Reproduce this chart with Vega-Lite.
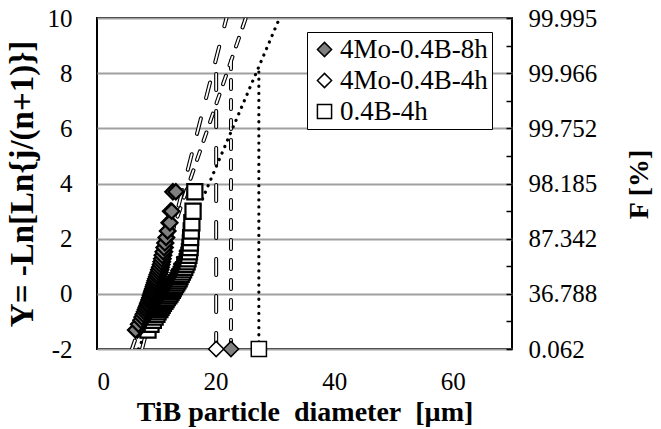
{
  "$schema": "https://vega.github.io/schema/vega-lite/v6.json",
  "width": 415,
  "height": 331,
  "autosize": "none",
  "padding": {"left": 97, "top": 18, "right": 149, "bottom": 80},
  "background": "white",
  "config": {
    "view": {"stroke": "black", "strokeWidth": 2},
    "font": "Liberation Serif",
    "axis": {"labelFont": "Liberation Serif", "titleFont": "Liberation Serif", "labelColor": "black", "titleColor": "black", "labelFontSize": 25, "titleFontSize": 28, "titleFontWeight": "bold"}
  },
  "datasets": {
    "pts": [
      {"s": "0.4B-4h", "j": 1, "x": 8.6, "y": -1.312},
      {"s": "0.4B-4h", "j": 2, "x": 9.1, "y": -1.105},
      {"s": "0.4B-4h", "j": 3, "x": 9.5, "y": -0.961},
      {"s": "0.4B-4h", "j": 4, "x": 9.8, "y": -0.845},
      {"s": "0.4B-4h", "j": 5, "x": 10.1, "y": -0.744},
      {"s": "0.4B-4h", "j": 6, "x": 10.3, "y": -0.653},
      {"s": "0.4B-4h", "j": 7, "x": 10.6, "y": -0.570},
      {"s": "0.4B-4h", "j": 8, "x": 10.8, "y": -0.491},
      {"s": "0.4B-4h", "j": 9, "x": 11.0, "y": -0.416},
      {"s": "0.4B-4h", "j": 10, "x": 11.2, "y": -0.344},
      {"s": "0.4B-4h", "j": 11, "x": 11.45, "y": -0.274},
      {"s": "0.4B-4h", "j": 12, "x": 11.65, "y": -0.206},
      {"s": "0.4B-4h", "j": 13, "x": 11.85, "y": -0.139},
      {"s": "0.4B-4h", "j": 14, "x": 12.1, "y": -0.072},
      {"s": "0.4B-4h", "j": 15, "x": 12.3, "y": -0.005},
      {"s": "0.4B-4h", "j": 16, "x": 12.5, "y": 0.061},
      {"s": "0.4B-4h", "j": 17, "x": 12.7, "y": 0.127},
      {"s": "0.4B-4h", "j": 18, "x": 12.85, "y": 0.194},
      {"s": "0.4B-4h", "j": 19, "x": 13.05, "y": 0.262},
      {"s": "0.4B-4h", "j": 20, "x": 13.25, "y": 0.332},
      {"s": "0.4B-4h", "j": 21, "x": 13.45, "y": 0.402},
      {"s": "0.4B-4h", "j": 22, "x": 13.65, "y": 0.474},
      {"s": "0.4B-4h", "j": 23, "x": 13.85, "y": 0.548},
      {"s": "0.4B-4h", "j": 24, "x": 14.0, "y": 0.625},
      {"s": "0.4B-4h", "j": 25, "x": 14.2, "y": 0.704},
      {"s": "0.4B-4h", "j": 26, "x": 14.4, "y": 0.786},
      {"s": "0.4B-4h", "j": 27, "x": 14.6, "y": 0.873},
      {"s": "0.4B-4h", "j": 28, "x": 14.8, "y": 0.964},
      {"s": "0.4B-4h", "j": 29, "x": 15.0, "y": 1.061},
      {"s": "0.4B-4h", "j": 30, "x": 15.2, "y": 1.164},
      {"s": "0.4B-4h", "j": 31, "x": 15.35, "y": 1.274},
      {"s": "0.4B-4h", "j": 32, "x": 15.5, "y": 1.395},
      {"s": "0.4B-4h", "j": 33, "x": 15.6, "y": 1.527},
      {"s": "0.4B-4h", "j": 34, "x": 15.7, "y": 1.676},
      {"s": "0.4B-4h", "j": 35, "x": 15.75, "y": 1.844},
      {"s": "0.4B-4h", "j": 36, "x": 15.8, "y": 2.040},
      {"s": "0.4B-4h", "j": 37, "x": 15.9, "y": 2.276},
      {"s": "0.4B-4h", "j": 38, "x": 16.0, "y": 2.577},
      {"s": "0.4B-4h", "j": 39, "x": 16.2, "y": 2.996},
      {"s": "0.4B-4h", "j": 40, "x": 16.5, "y": 3.701},
      {"s": "4Mo-0.4B-4h", "j": 1, "x": 6.8, "y": -1.312},
      {"s": "4Mo-0.4B-4h", "j": 2, "x": 7.2, "y": -1.105},
      {"s": "4Mo-0.4B-4h", "j": 3, "x": 7.6, "y": -0.961},
      {"s": "4Mo-0.4B-4h", "j": 4, "x": 7.9, "y": -0.845},
      {"s": "4Mo-0.4B-4h", "j": 5, "x": 8.1, "y": -0.744},
      {"s": "4Mo-0.4B-4h", "j": 6, "x": 8.3, "y": -0.653},
      {"s": "4Mo-0.4B-4h", "j": 7, "x": 8.5, "y": -0.570},
      {"s": "4Mo-0.4B-4h", "j": 8, "x": 8.65, "y": -0.491},
      {"s": "4Mo-0.4B-4h", "j": 9, "x": 8.8, "y": -0.416},
      {"s": "4Mo-0.4B-4h", "j": 10, "x": 8.95, "y": -0.344},
      {"s": "4Mo-0.4B-4h", "j": 11, "x": 9.1, "y": -0.274},
      {"s": "4Mo-0.4B-4h", "j": 12, "x": 9.2, "y": -0.206},
      {"s": "4Mo-0.4B-4h", "j": 13, "x": 9.3, "y": -0.139},
      {"s": "4Mo-0.4B-4h", "j": 14, "x": 9.45, "y": -0.072},
      {"s": "4Mo-0.4B-4h", "j": 15, "x": 9.55, "y": -0.005},
      {"s": "4Mo-0.4B-4h", "j": 16, "x": 9.65, "y": 0.061},
      {"s": "4Mo-0.4B-4h", "j": 17, "x": 9.75, "y": 0.127},
      {"s": "4Mo-0.4B-4h", "j": 18, "x": 9.85, "y": 0.194},
      {"s": "4Mo-0.4B-4h", "j": 19, "x": 9.95, "y": 0.262},
      {"s": "4Mo-0.4B-4h", "j": 20, "x": 10.05, "y": 0.332},
      {"s": "4Mo-0.4B-4h", "j": 21, "x": 10.15, "y": 0.402},
      {"s": "4Mo-0.4B-4h", "j": 22, "x": 10.25, "y": 0.474},
      {"s": "4Mo-0.4B-4h", "j": 23, "x": 10.35, "y": 0.548},
      {"s": "4Mo-0.4B-4h", "j": 24, "x": 10.45, "y": 0.625},
      {"s": "4Mo-0.4B-4h", "j": 25, "x": 10.55, "y": 0.704},
      {"s": "4Mo-0.4B-4h", "j": 26, "x": 10.65, "y": 0.786},
      {"s": "4Mo-0.4B-4h", "j": 27, "x": 10.75, "y": 0.873},
      {"s": "4Mo-0.4B-4h", "j": 28, "x": 10.85, "y": 0.964},
      {"s": "4Mo-0.4B-4h", "j": 29, "x": 10.95, "y": 1.061},
      {"s": "4Mo-0.4B-4h", "j": 30, "x": 11.05, "y": 1.164},
      {"s": "4Mo-0.4B-4h", "j": 31, "x": 11.15, "y": 1.274},
      {"s": "4Mo-0.4B-4h", "j": 32, "x": 11.25, "y": 1.395},
      {"s": "4Mo-0.4B-4h", "j": 33, "x": 11.4, "y": 1.527},
      {"s": "4Mo-0.4B-4h", "j": 34, "x": 11.5, "y": 1.676},
      {"s": "4Mo-0.4B-4h", "j": 35, "x": 11.6, "y": 1.844},
      {"s": "4Mo-0.4B-4h", "j": 36, "x": 11.75, "y": 2.040},
      {"s": "4Mo-0.4B-4h", "j": 37, "x": 11.95, "y": 2.276},
      {"s": "4Mo-0.4B-4h", "j": 38, "x": 12.15, "y": 2.577},
      {"s": "4Mo-0.4B-4h", "j": 39, "x": 12.4, "y": 2.996},
      {"s": "4Mo-0.4B-4h", "j": 40, "x": 12.8, "y": 3.701},
      {"s": "4Mo-0.4B-8h", "j": 1, "x": 6.5, "y": -1.312},
      {"s": "4Mo-0.4B-8h", "j": 2, "x": 7.0, "y": -1.105},
      {"s": "4Mo-0.4B-8h", "j": 3, "x": 7.4, "y": -0.961},
      {"s": "4Mo-0.4B-8h", "j": 4, "x": 7.6, "y": -0.845},
      {"s": "4Mo-0.4B-8h", "j": 5, "x": 7.8, "y": -0.744},
      {"s": "4Mo-0.4B-8h", "j": 6, "x": 8.0, "y": -0.653},
      {"s": "4Mo-0.4B-8h", "j": 7, "x": 8.15, "y": -0.570},
      {"s": "4Mo-0.4B-8h", "j": 8, "x": 8.3, "y": -0.491},
      {"s": "4Mo-0.4B-8h", "j": 9, "x": 8.45, "y": -0.416},
      {"s": "4Mo-0.4B-8h", "j": 10, "x": 8.55, "y": -0.344},
      {"s": "4Mo-0.4B-8h", "j": 11, "x": 8.7, "y": -0.274},
      {"s": "4Mo-0.4B-8h", "j": 12, "x": 8.8, "y": -0.206},
      {"s": "4Mo-0.4B-8h", "j": 13, "x": 8.9, "y": -0.139},
      {"s": "4Mo-0.4B-8h", "j": 14, "x": 9.0, "y": -0.072},
      {"s": "4Mo-0.4B-8h", "j": 15, "x": 9.1, "y": -0.005},
      {"s": "4Mo-0.4B-8h", "j": 16, "x": 9.2, "y": 0.061},
      {"s": "4Mo-0.4B-8h", "j": 17, "x": 9.3, "y": 0.127},
      {"s": "4Mo-0.4B-8h", "j": 18, "x": 9.4, "y": 0.194},
      {"s": "4Mo-0.4B-8h", "j": 19, "x": 9.5, "y": 0.262},
      {"s": "4Mo-0.4B-8h", "j": 20, "x": 9.6, "y": 0.332},
      {"s": "4Mo-0.4B-8h", "j": 21, "x": 9.7, "y": 0.402},
      {"s": "4Mo-0.4B-8h", "j": 22, "x": 9.8, "y": 0.474},
      {"s": "4Mo-0.4B-8h", "j": 23, "x": 9.9, "y": 0.548},
      {"s": "4Mo-0.4B-8h", "j": 24, "x": 10.05, "y": 0.625},
      {"s": "4Mo-0.4B-8h", "j": 25, "x": 10.15, "y": 0.704},
      {"s": "4Mo-0.4B-8h", "j": 26, "x": 10.3, "y": 0.786},
      {"s": "4Mo-0.4B-8h", "j": 27, "x": 10.4, "y": 0.873},
      {"s": "4Mo-0.4B-8h", "j": 28, "x": 10.55, "y": 0.964},
      {"s": "4Mo-0.4B-8h", "j": 29, "x": 10.7, "y": 1.061},
      {"s": "4Mo-0.4B-8h", "j": 30, "x": 10.8, "y": 1.164},
      {"s": "4Mo-0.4B-8h", "j": 31, "x": 10.9, "y": 1.274},
      {"s": "4Mo-0.4B-8h", "j": 32, "x": 11.0, "y": 1.395},
      {"s": "4Mo-0.4B-8h", "j": 33, "x": 11.15, "y": 1.527},
      {"s": "4Mo-0.4B-8h", "j": 34, "x": 11.3, "y": 1.676},
      {"s": "4Mo-0.4B-8h", "j": 35, "x": 11.45, "y": 1.844},
      {"s": "4Mo-0.4B-8h", "j": 36, "x": 11.65, "y": 2.040},
      {"s": "4Mo-0.4B-8h", "j": 37, "x": 11.9, "y": 2.276},
      {"s": "4Mo-0.4B-8h", "j": 38, "x": 12.3, "y": 2.577},
      {"s": "4Mo-0.4B-8h", "j": 39, "x": 12.6, "y": 2.996},
      {"s": "4Mo-0.4B-8h", "j": 40, "x": 13.3, "y": 3.701}
    ],
    "base": [
      {"s": "4Mo-0.4B-4h", "x": 20.1, "y": -2},
      {"s": "4Mo-0.4B-8h", "x": 22.6, "y": -2},
      {"s": "0.4B-4h", "x": 27.3, "y": -2}
    ],
    "dashed": [
      {"s": "4Mo-0.4B-8h", "seg": "fit8", "o": 1, "x": 5.9, "y": -2},
      {"s": "4Mo-0.4B-8h", "seg": "fit8", "o": 2, "x": 25.1, "y": 10},
      {"s": "4Mo-0.4B-8h", "seg": "v8", "o": 1, "x": 22.6, "y": -2},
      {"s": "4Mo-0.4B-8h", "seg": "v8", "o": 2, "x": 22.6, "y": 8.45},
      {"s": "4Mo-0.4B-4h", "seg": "fit4", "o": 1, "x": 7.6, "y": -2},
      {"s": "4Mo-0.4B-4h", "seg": "fit4", "o": 2, "x": 21.84, "y": 10},
      {"s": "4Mo-0.4B-4h", "seg": "v4", "o": 1, "x": 20.1, "y": -2},
      {"s": "4Mo-0.4B-4h", "seg": "v4", "o": 2, "x": 20.1, "y": 8.5}
    ],
    "dotted": [
      {"s": "0.4B-4h", "seg": "fitB", "o": 1, "x": 7.0, "y": -2},
      {"s": "0.4B-4h", "seg": "fitB", "o": 2, "x": 30.8, "y": 10},
      {"s": "0.4B-4h", "seg": "vB", "o": 1, "x": 27.3, "y": -2},
      {"s": "0.4B-4h", "seg": "vB", "o": 2, "x": 27.3, "y": 8.2}
    ]
  },
  "layer": [
    {
      "data": {"name": "dashed"},
      "mark": {"type": "line", "stroke": "black", "strokeWidth": 4, "strokeCap": "round", "clip": true},
      "encoding": {
        "x": {"field": "x", "type": "quantitative", "scale": {"domain": [0, 70]},
              "axis": {"values": [0, 20, 40, 60], "title": "TiB particle\u00a0 diameter\u00a0 [µm]", "grid": false, "ticks": false, "domain": false, "labelPadding": 20, "titlePadding": 4}},
        "y": {"field": "y", "type": "quantitative", "scale": {"domain": [-2, 10]},
              "axis": {"orient": "left", "values": [-2, 0, 2, 4, 6, 8, 10], "labelExpr": "'' + datum.value", "title": "Y= -Ln[Ln{j/(n+1)}]", "titleFontSize": 33, "grid": true, "gridColor": "#a0a0a0", "gridWidth": 1.8, "ticks": false, "domain": false, "labelPadding": 25, "titlePadding": 8}},
        "detail": {"field": "seg"},
        "order": {"field": "o"},
        "strokeDash": {"field": "s", "type": "nominal", "scale": {"domain": ["4Mo-0.4B-8h", "4Mo-0.4B-4h"], "range": [[9, 11], [16, 21]]}, "legend": null}
      }
    },
    {
      "data": {"name": "dashed"},
      "mark": {"type": "line", "stroke": "white", "strokeWidth": 1.8, "strokeCap": "round", "clip": true},
      "encoding": {
        "x": {"field": "x", "type": "quantitative"},
        "y": {"field": "y", "type": "quantitative", "axis": null},
        "detail": {"field": "seg"},
        "order": {"field": "o"},
        "strokeDash": {"field": "s", "type": "nominal", "legend": null}
      }
    },
    {
      "data": {"name": "dotted"},
      "mark": {"type": "line", "stroke": "black", "strokeWidth": 3.2, "strokeCap": "round", "strokeDash": [0.1, 7], "clip": true},
      "encoding": {
        "x": {"field": "x", "type": "quantitative"},
        "y": {"field": "y", "type": "quantitative",
              "axis": {"orient": "right", "values": [-2, -1, 0, 1, 2, 3, 4, 5, 6, 7, 8, 9, 10], "title": "F [%]", "titleAngle": 270, "titleX": 127, "titleY": 166, "titleAlign": "center", "titleBaseline": "middle", "grid": false, "ticks": true, "tickSize": -6, "tickColor": "black", "tickWidth": 1.5, "domain": false, "labelPadding": 22,
                       "labelExpr": "datum.value==10?'99.995':datum.value==8?'99.966':datum.value==6?'99.752':datum.value==4?'98.185':datum.value==2?'87.342':datum.value==0?'36.788':datum.value==-2?'0.062':''"}},
        "detail": {"field": "seg"},
        "order": {"field": "o"}
      }
    },
    {
      "data": {"name": "pts"},
      "mark": {"type": "point", "filled": true, "strokeWidth": 2.2, "opacity": 1, "size": 230},
      "encoding": {
        "x": {"field": "x", "type": "quantitative"},
        "y": {"field": "y", "type": "quantitative", "axis": null},
        "shape": {"field": "s", "type": "nominal", "scale": {"domain": ["4Mo-0.4B-8h", "4Mo-0.4B-4h", "0.4B-4h"], "range": ["diamond", "diamond", "square"]},
                  "legend": {"title": null, "orient": "none", "legendX": 210, "legendY": 14, "strokeColor": "black", "fillColor": "white", "padding": 4, "labelFont": "Liberation Serif", "labelFontSize": 27, "labelColor": "black", "symbolSize": 200, "symbolStrokeWidth": 1.5, "rowPadding": 3, "labelOffset": 2, "labelLimit": 300}},
        "fill": {"field": "s", "type": "nominal", "scale": {"domain": ["4Mo-0.4B-8h", "4Mo-0.4B-4h", "0.4B-4h"], "range": ["#808080", "white", "white"]}, "legend": {"title": null}},
        "stroke": {"field": "s", "type": "nominal", "scale": {"domain": ["4Mo-0.4B-8h", "4Mo-0.4B-4h", "0.4B-4h"], "range": ["black", "black", "black"]}, "legend": {"title": null}}
      }
    },
    {
      "data": {"name": "base"},
      "mark": {"type": "point", "filled": true, "strokeWidth": 1.5, "opacity": 1, "size": 230, "clip": false},
      "encoding": {
        "x": {"field": "x", "type": "quantitative"},
        "y": {"field": "y", "type": "quantitative", "axis": null},
        "shape": {"field": "s", "type": "nominal"},
        "fill": {"field": "s", "type": "nominal"},
        "stroke": {"field": "s", "type": "nominal"}
      }
    }
  ],
  "resolve": {"axis": {"y": "independent"}}
}
